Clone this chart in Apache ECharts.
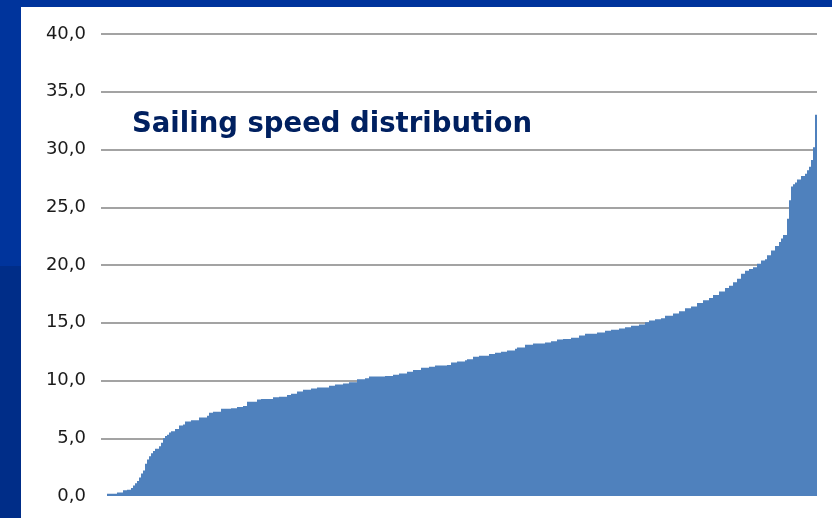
<!DOCTYPE html>
<html>
<head>
<meta charset="utf-8">
<script src="https://cdn.jsdelivr.net/npm/echarts@6/dist/echarts.min.js"></script>
<style>
  html, body { margin: 0; padding: 0; background: #ffffff; }
  #chart { width: 832px; height: 518px; }
</style>
</head>
<body>
<div id="chart"></div>
<script>
// Sorted sailing speeds, one bar per sample (ascending order)
const speeds = [
  0, 0, 0,
  0.2, 0.2, 0.2, 0.2, 0.2,
  0.3, 0.3, 0.3,
  0.5, 0.5, 0.55, 0.55,
  0.7, 0.9, 1.1, 1.3, 1.6, 1.95, 2.2, 2.8, 3.15, 3.45, 3.7, 3.9,
  4.1, 4.1, 4.3, 4.6, 5.0, 5.2, 5.3, 5.5,
  5.6, 5.6, 5.8, 5.8, 6.1, 6.1, 6.2,
  6.45, 6.45, 6.45,
  6.55, 6.55, 6.55, 6.55,
  6.8, 6.8, 6.8, 6.8, 6.95,
  7.2, 7.2,
  7.3, 7.3, 7.3, 7.3,
  7.55, 7.55, 7.55, 7.55, 7.55,
  7.6, 7.6, 7.6,
  7.7, 7.7, 7.7,
  7.8, 7.8,
  8.15, 8.15, 8.15, 8.15, 8.15,
  8.35, 8.35,
  8.4, 8.4, 8.4, 8.4, 8.4, 8.4,
  8.55, 8.55, 8.55,
  8.6, 8.6, 8.6, 8.6,
  8.75, 8.75,
  8.85, 8.85, 8.85,
  9.05, 9.05, 9.05,
  9.2, 9.2, 9.2, 9.2,
  9.3, 9.3, 9.3,
  9.4, 9.4, 9.4, 9.4, 9.4, 9.4,
  9.55, 9.55, 9.55,
  9.65, 9.65, 9.65, 9.65,
  9.75, 9.75, 9.75,
  9.85, 9.85, 9.85, 9.85,
  10.1, 10.1, 10.1, 10.1,
  10.2, 10.2,
  10.35, 10.35, 10.35, 10.35, 10.35, 10.35, 10.35, 10.35,
  10.4, 10.4, 10.4, 10.4,
  10.5, 10.5, 10.5,
  10.6, 10.6, 10.6, 10.6,
  10.75, 10.75, 10.75,
  10.9, 10.9, 10.9, 10.9,
  11.1, 11.1, 11.1, 11.1,
  11.2, 11.2, 11.2,
  11.3, 11.3, 11.3, 11.3, 11.3, 11.3,
  11.35, 11.35,
  11.55, 11.55, 11.55,
  11.65, 11.65, 11.65, 11.65,
  11.75,
  11.85, 11.85, 11.85,
  12.05, 12.05, 12.05,
  12.15, 12.15, 12.15, 12.15, 12.15,
  12.3, 12.3, 12.3,
  12.4, 12.4, 12.4,
  12.5, 12.5, 12.5,
  12.6, 12.6, 12.6, 12.6,
  12.75,
  12.85, 12.85, 12.85, 12.85,
  13.1, 13.1, 13.1, 13.1,
  13.2, 13.2, 13.2, 13.2, 13.2, 13.2,
  13.3, 13.3, 13.3,
  13.4, 13.4, 13.4,
  13.55, 13.55, 13.55,
  13.6, 13.6, 13.6, 13.6,
  13.7, 13.7, 13.7, 13.7,
  13.9, 13.9, 13.9,
  14.05, 14.05, 14.05, 14.05, 14.05, 14.05,
  14.15, 14.15, 14.15, 14.15,
  14.3, 14.3, 14.3,
  14.4, 14.4, 14.4, 14.4,
  14.5, 14.5, 14.5,
  14.6, 14.6, 14.6,
  14.75, 14.75, 14.75, 14.75,
  14.85, 14.85, 14.85,
  15.05, 15.05,
  15.2, 15.2, 15.2,
  15.3, 15.3, 15.3,
  15.4, 15.4,
  15.6, 15.6, 15.6, 15.6,
  15.8, 15.8, 15.8,
  16.0, 16.0, 16.0,
  16.25, 16.25, 16.25,
  16.4, 16.4, 16.4,
  16.7, 16.7, 16.7,
  16.95, 16.95, 16.95,
  17.15, 17.15,
  17.4, 17.4, 17.4,
  17.7, 17.7, 17.7,
  18.0, 18.0, 18.2, 18.2, 18.5, 18.5, 18.8, 18.8,
  19.25, 19.25, 19.5, 19.5, 19.65, 19.65, 19.8, 19.8,
  20.1, 20.1, 20.4, 20.4, 20.5, 20.85, 20.85,
  21.25, 21.25, 21.65, 21.65, 22.0, 22.3, 22.6, 22.6,
  24.0, 25.6, 26.8, 27.0, 27.15, 27.4, 27.4, 27.7, 27.7,
  27.9, 28.2, 28.5, 29.1, 30.2, 33.0
];

// Sample index for each bar (not labelled)
const samples = speeds.map((_, i) => i + 1);

// Value-axis ticks
const yTicks = [0, 5, 10, 15, 20, 25, 30, 35, 40];

const titleText = 'Sailing speed distribution';

const chart = echarts.init(document.getElementById('chart'), null, { renderer: 'canvas' });

const gridColors = yTicks.map(v => (v === 0 ? 'rgba(0,0,0,0)' : '#858585'));

chart.setOption({
  backgroundColor: '#ffffff',
  animation: false,
  graphic: [
    // slide frame: top band and left band (upper / lower tone)
    { type: 'rect', z: -10, shape: { x: 0, y: 0, width: 832, height: 7 }, style: { fill: '#00349c' } },
    { type: 'rect', z: -10, shape: { x: 0, y: 0, width: 21, height: 266 }, style: { fill: '#00349c' } },
    { type: 'rect', z: -10, shape: { x: 0, y: 266, width: 21, height: 252 }, style: { fill: '#002d88' } }
  ],
  title: {
    text: titleText,
    left: 127,
    top: 106,
    textStyle: {
      fontFamily: 'DejaVu Sans',
      fontWeight: 'bold',
      fontSize: 27.5,
      color: '#002060'
    }
  },
  grid: { left: 101, right: 15, top: 34, bottom: 22, containLabel: false },
  xAxis: {
    type: 'category',
    data: samples,
    axisLine: { show: false },
    axisTick: { show: false },
    axisLabel: { show: false },
    splitLine: { show: false }
  },
  yAxis: {
    type: 'value',
    min: yTicks[0],
    max: yTicks[yTicks.length - 1],
    interval: 5,
    axisLine: { show: false },
    axisTick: { show: false },
    axisLabel: {
      margin: 15,
      fontFamily: 'DejaVu Sans',
      fontSize: 18,
      color: '#1a1a1a',
      formatter: v => v.toFixed(1).replace('.', ',')
    },
    splitLine: { show: true, lineStyle: { color: gridColors, width: 1.5 } }
  },
  series: [{
    type: 'bar',
    data: speeds,
    barWidth: '100%',
    barCategoryGap: 0,
    itemStyle: { color: '#4f81bd' },
    silent: true
  }]
});
</script>
</body>
</html>
